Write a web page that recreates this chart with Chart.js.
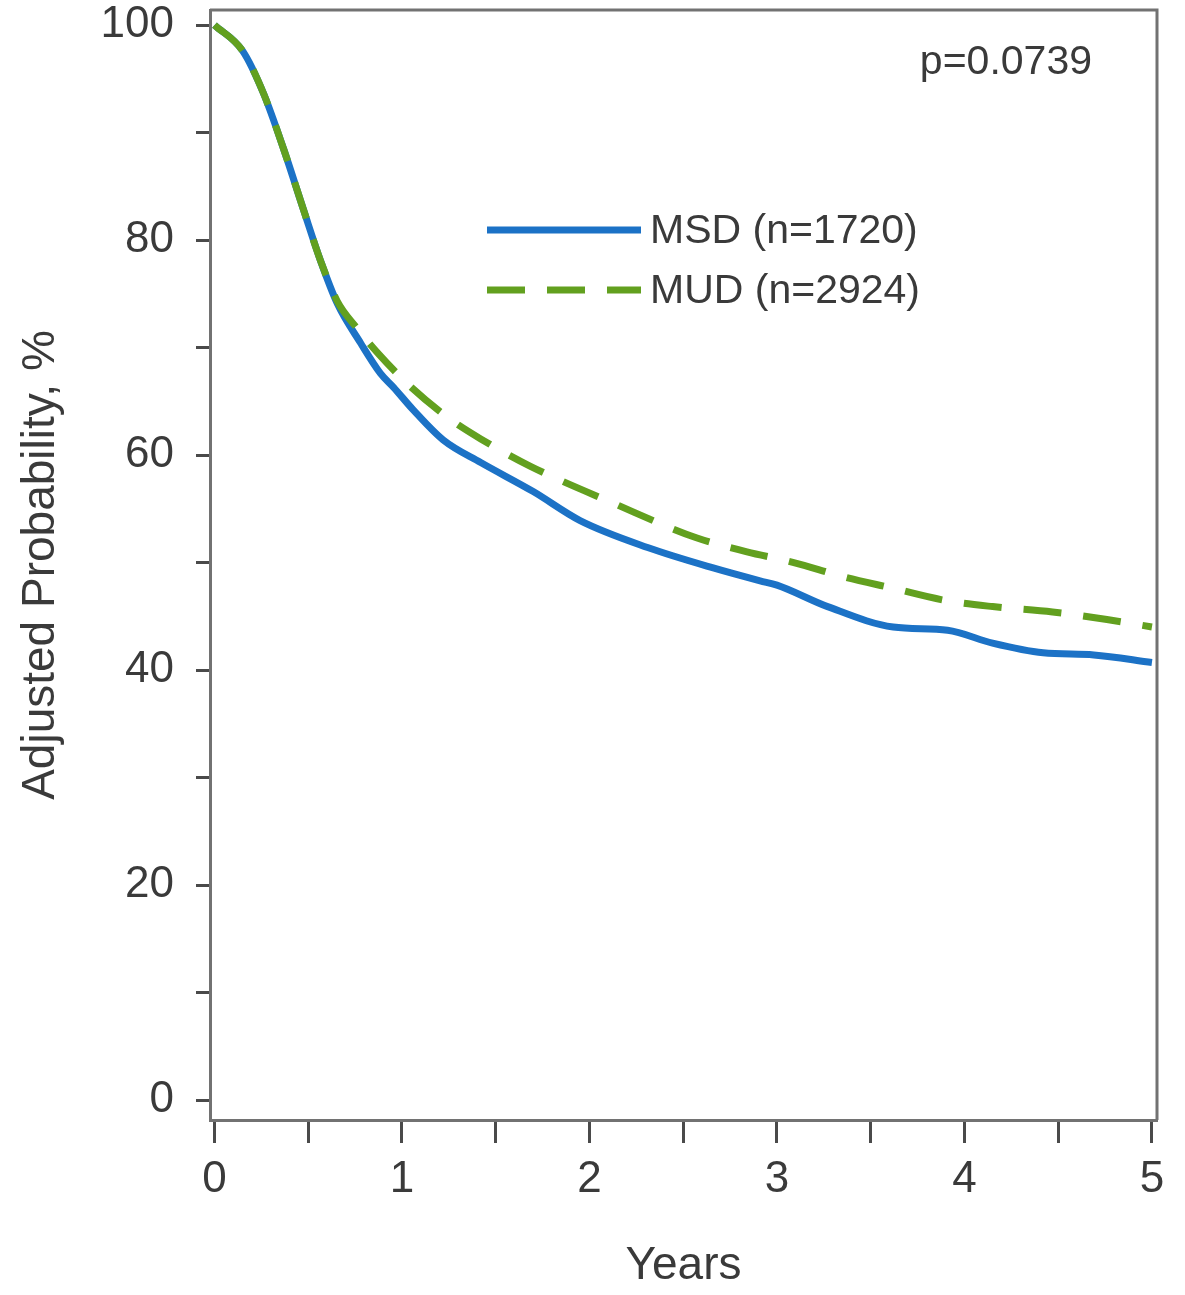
<!DOCTYPE html>
<html>
<head>
<meta charset="utf-8">
<script src="https://cdn.jsdelivr.net/npm/chart.js@4.4.1/dist/chart.umd.min.js"></script>
<style>
  html, body { margin: 0; padding: 0; background: #fff; }
  #chart { display: block; }
</style>
</head>
<body>
<canvas id="chart" width="1185" height="1295"></canvas>
<script>
// values (years, adjusted probability %)
const msdYears = [0, 0.15, 0.26, 0.37, 0.475, 0.565, 0.655, 0.78, 0.885, 0.955, 1.06, 1.22, 1.42, 1.7, 1.95, 2.31, 2.66, 2.91, 3.0, 3.27, 3.62, 3.91, 4.15, 4.42, 4.69, 5.0];
const msdValues = [100, 97.6, 93.7, 88.4, 82.8, 78.1, 74.1, 70.4, 67.6, 66.3, 64.2, 61.4, 59.3, 56.6, 53.9, 51.4, 49.5, 48.3, 47.9, 45.9, 44.0, 43.7, 42.5, 41.6, 41.4, 40.7];
const mudYears = [0, 0.15, 0.26, 0.37, 0.475, 0.565, 0.655, 0.76, 0.87, 1.05, 1.26, 1.42, 1.68, 2.13, 2.57, 2.84, 3.09, 3.35, 3.62, 3.89, 4.15, 4.47, 4.76, 5.0];
const mudValues = [100, 97.6, 93.7, 88.4, 82.8, 78.1, 74.3, 71.8, 69.5, 66.3, 63.3, 61.5, 59.0, 55.5, 52.3, 51.0, 50.0, 48.7, 47.6, 46.5, 45.9, 45.4, 44.7, 44.0];
const seriesLabels = ['MSD (n=1720)', 'MUD (n=2924)'];
const pValueText = 'p=0.0739';

const blue = '#1c72c6';
const green = '#62a01f';
const textColor = '#3a3a3a';
const fontFamily = "'Liberation Sans', Arial, sans-serif";

const toPoints = (xs, ys) => xs.map((x, i) => ({ x, y: ys[i] }));

// box around the plot (top + right edges, left/bottom come from axis borders)
const framePlugin = {
  id: 'frame',
  afterDraw(chart) {
    const { ctx, chartArea: a } = chart;
    ctx.save();
    ctx.strokeStyle = '#727272';
    ctx.lineWidth = 3;
    ctx.beginPath();
    ctx.moveTo(a.left, a.top);
    ctx.lineTo(a.right, a.top);
    ctx.lineTo(a.right, a.bottom);
    ctx.stroke();
    ctx.restore();
  }
};

// inline legend and p-value, drawn inside the plot like the original
const notesPlugin = {
  id: 'notes',
  afterDraw(chart) {
    const ctx = chart.ctx;
    ctx.save();
    ctx.font = '41px ' + fontFamily;
    ctx.fillStyle = textColor;
    ctx.textBaseline = 'middle';
    ctx.textAlign = 'right';
    ctx.fillText(pValueText, 1092, 63);

    const rows = [230, 290];
    chart.data.datasets.forEach((ds, i) => {
      const y = rows[i];
      ctx.strokeStyle = ds.borderColor;
      ctx.lineWidth = ds.borderWidth;
      ctx.setLineDash(ds.borderDash || []);
      ctx.beginPath();
      ctx.moveTo(487, y);
      ctx.lineTo(641, y);
      ctx.stroke();
      ctx.setLineDash([]);
      ctx.textAlign = 'left';
      ctx.fillStyle = textColor;
      ctx.fillText(ds.label, 650, y + 2);
    });
    ctx.restore();
  }
};

const ctx = document.getElementById('chart').getContext('2d');
new Chart(ctx, {
  type: 'line',
  data: {
    datasets: [
      {
        label: seriesLabels[0],
        data: toPoints(msdYears, msdValues),
        borderColor: blue,
        borderWidth: 7,
        pointRadius: 0,
        fill: false,
        order: 1,
        cubicInterpolationMode: 'monotone'
      },
      {
        label: seriesLabels[1],
        data: toPoints(mudYears, mudValues),
        borderColor: green,
        borderWidth: 7,
        borderDash: [38, 22],
        pointRadius: 0,
        fill: false,
        order: 0, // green dashes sit on top of the blue line
        cubicInterpolationMode: 'monotone'
      }
    ]
  },
  options: {
    responsive: false,
    animation: false,
    layout: { padding: { top: 10, right: 28, left: 0, bottom: 0 } },
    plugins: { legend: { display: false }, tooltip: { enabled: false } },
    scales: {
      x: {
        type: 'linear',
        min: -0.024,
        max: 5.027,
        afterFit: s => { s.height = 175; s.paddingLeft = 0; s.paddingRight = 0; },
        ticks: {
          stepSize: 0.5,
          includeBounds: false,
          autoSkip: false,
          maxRotation: 0,
          padding: 10,
          color: textColor,
          font: { family: fontFamily, size: 44 },
          callback: v => Number.isInteger(v) ? String(v) : ''
        },
        grid: { drawOnChartArea: false, drawTicks: true, tickLength: 23, tickColor: '#4a4a4a', tickWidth: 3 },
        border: { color: '#727272', width: 3 },
        title: {
          display: true,
          text: 'Years',
          color: textColor,
          font: { family: fontFamily, size: 46 },
          padding: { top: 0, bottom: 1 }
        }
      },
      y: {
        min: -1.86,
        max: 101.4,
        afterFit: s => { s.width = 210; s.paddingTop = 0; s.paddingBottom = 0; },
        ticks: {
          stepSize: 10,
          includeBounds: false,
          autoSkip: false,
          padding: 22,
          color: textColor,
          font: { family: fontFamily, size: 44 },
          callback: v => v % 20 === 0 ? String(v) : ''
        },
        grid: { drawOnChartArea: false, drawTicks: true, tickLength: 14, tickColor: '#4a4a4a', tickWidth: 3 },
        border: { color: '#727272', width: 3 },
        title: {
          display: true,
          text: 'Adjusted Probability, %',
          color: textColor,
          font: { family: fontFamily, size: 46 },
          padding: { top: 14, bottom: 0 }
        }
      }
    }
  },
  plugins: [framePlugin, notesPlugin]
});
</script>
</body>
</html>
